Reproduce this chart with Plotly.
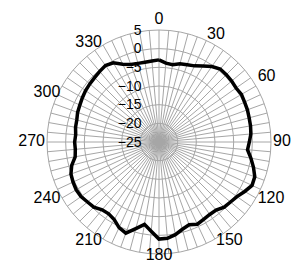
import plotly.graph_objects as go

# Angles (degrees) and measured levels (dB)
angles = list(range(0, 360, 5))
levels = [
    -3.0, -3.8, -4.0, -3.3, -3.0, -2.5, -1.5, -0.3, 0.5, 0.5, 0.4, 0.2,   # 0-55
    0.5, 0.3, 0.2, 0.0, -0.1, -0.3, -0.8, -1.2, 0.0, 1.2, 2.3, 2.5,      # 60-115
    1.5, 0.5, 0.0, -0.3, -1.2, -1.3, -1.1, -0.7, -1.4, -0.8, 0.2, 0.9,   # 120-175
    1.0, -1.0, -2.6, -1.0, 1.0, 0.3, -1.0, -1.5, -1.3, -0.3, 0.0, 0.5,   # 180-235
    0.6, 0.4, 0.1, -0.8, -2.2, -2.5, -2.4, -2.6, -2.3, -2.2, -1.8, -1.6, # 240-295
    -1.3, -1.0, -0.8, -0.6, -0.3, 0.0, -0.5, -2.0, -2.9, -3.2, -3.3, -3.2 # 300-355
]
angle_ticks = list(range(0, 360, 30))
angle_labels = [str(a) for a in angle_ticks]
radial_ticks = [-25, -20, -15, -10, -5, 0, 5]

R_MIN, R_MAX = -25, 5

W, H = 295, 266
CX, CY, RAD = 159, 142, 112        # chart circle centre / radius (px)
LRAD = 124                         # label ring frame radius (px)
LABEL_AT = 114                     # label distance from centre (px)
FONT = "Liberation Sans, Arial, sans-serif"


def label_position(a):
    if a in (0, 30):
        return "top center"
    if a == 60:
        return "top right"
    if 60 < a < 180:
        return "middle right"
    if a == 180:
        return "middle center"
    if a == 300:
        return "bottom left"
    return "middle left"


def dom(c, r, total, flip=False):
    lo, hi = c - r, c + r
    if flip:
        lo, hi = total - hi, total - lo
    return [lo / total, hi / total]


fig = go.Figure()
fig.add_trace(go.Scatterpolar(
    r=levels + [levels[0]],
    theta=angles + [angles[0]],
    mode="lines",
    line=dict(color="black", width=3.5),
    showlegend=False, hoverinfo="skip",
    subplot="polar",
))
# angular labels (0, 30, ... 330) on a transparent overlay polar frame
fig.add_trace(go.Scatterpolar(
    r=[LABEL_AT] * len(angle_ticks),
    theta=angle_ticks,
    mode="text",
    text=angle_labels,
    textposition=[label_position(a) for a in angle_ticks],
    textfont=dict(size=16, color="black", family=FONT),
    cliponaxis=False,
    showlegend=False, hoverinfo="skip",
    subplot="polar2",
))

fig.update_layout(
    width=W, height=H,
    margin=dict(l=0, r=0, t=0, b=0),
    paper_bgcolor="white",
    font=dict(family=FONT, color="black"),
    polar=dict(
        domain=dict(x=dom(CX, RAD, W), y=dom(CY, RAD, H, flip=True)),
        bgcolor="white",
        angularaxis=dict(
            rotation=90, direction="clockwise",
            tickmode="array", tickvals=angles,
            showticklabels=False,
            showgrid=True, gridcolor="#a6a6a6", gridwidth=1,
            showline=True, linecolor="#a6a6a6", linewidth=1,
            ticks="",
        ),
        radialaxis=dict(
            range=[R_MIN, R_MAX], tickmode="array", tickvals=radial_ticks,
            angle=90, tickangle=90, side="counterclockwise",
            ticks="outside", ticklen=12, tickcolor="rgba(0,0,0,0)",
            tickfont=dict(size=14, color="black", family=FONT),
            showgrid=True, gridcolor="#a6a6a6", gridwidth=1,
            showline=False,
        ),
    ),
    polar2=dict(
        domain=dict(x=dom(CX, LRAD, W), y=dom(CY, LRAD, H, flip=True)),
        bgcolor="rgba(0,0,0,0)",
        angularaxis=dict(
            rotation=90, direction="clockwise",
            showgrid=False, showline=False, showticklabels=False, ticks="",
        ),
        radialaxis=dict(
            range=[0, LRAD], visible=False,
            showgrid=False, showline=False, showticklabels=False, ticks="",
        ),
    ),
)

fig.write_html(
    "out.html",
    config={"displayModeBar": False},
    post_script="document.body.style.margin='0';document.body.style.overflow='hidden';",
)
